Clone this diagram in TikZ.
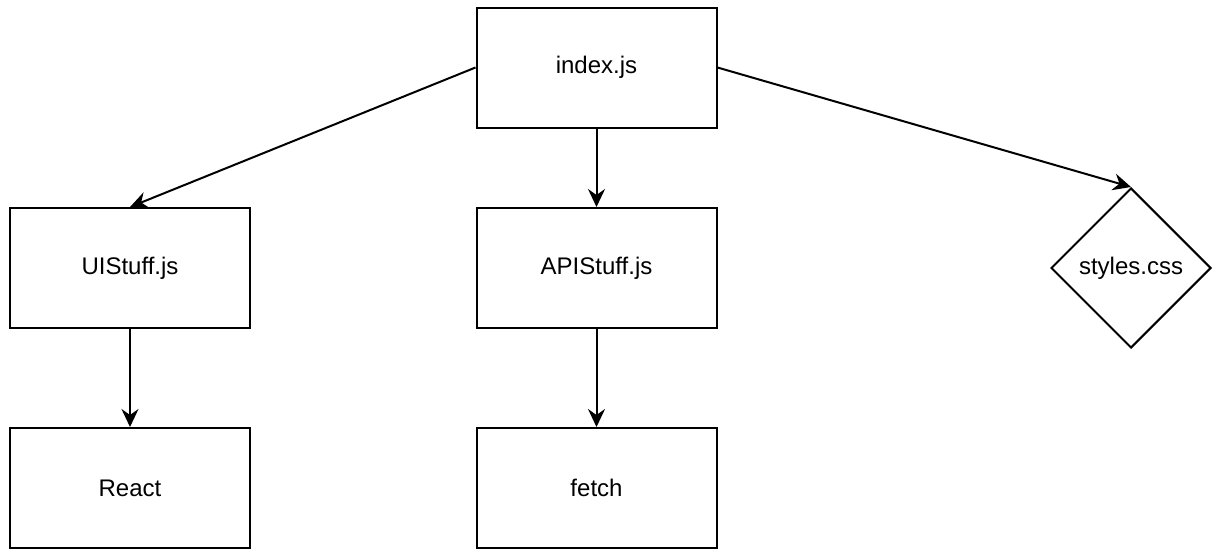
\documentclass[tikz,border=0pt]{standalone}
\usepackage{fontspec}
\setmainfont{Liberation Sans}
\usetikzlibrary{shapes.geometric,arrows.meta}
\begin{document}
\begin{tikzpicture}[x=1pt,y=-1pt,
  box/.style={draw=black,line width=2pt,minimum width=240pt,minimum height=120pt,inner sep=0pt,font=\fontsize{24}{28}\selectfont},
  dia/.style={draw=black,line width=2pt,shape=diamond,aspect=1,minimum width=160pt,minimum height=160pt,inner sep=0pt,font=\fontsize{24}{28}\selectfont},
  arr/.style={line width=2pt,-{Stealth[length=18pt,width=17pt,inset=6pt]}}]
\useasboundingbox (0,0) rectangle (1214,550);
\node[box] (index) at (596.5,67.5) {index.js};
\node[box] (ui) at (130,268) {UIStuff.js};
\node[box] (api) at (596.5,268) {APIStuff.js};
\node[box] (react) at (130,488) {React};
\node[box] (fetch) at (596.5,488) {fetch};
\node[dia] (css) at (1131,268) {styles.css};
\draw[arr] (index.west) -- (ui.north);
\draw[arr] (index.south) -- (api.north);
\draw[arr] (index.east) -- (css.north);
\draw[arr] (ui.south) -- (react.north);
\draw[arr] (api.south) -- (fetch.north);
\end{tikzpicture}
\end{document}
